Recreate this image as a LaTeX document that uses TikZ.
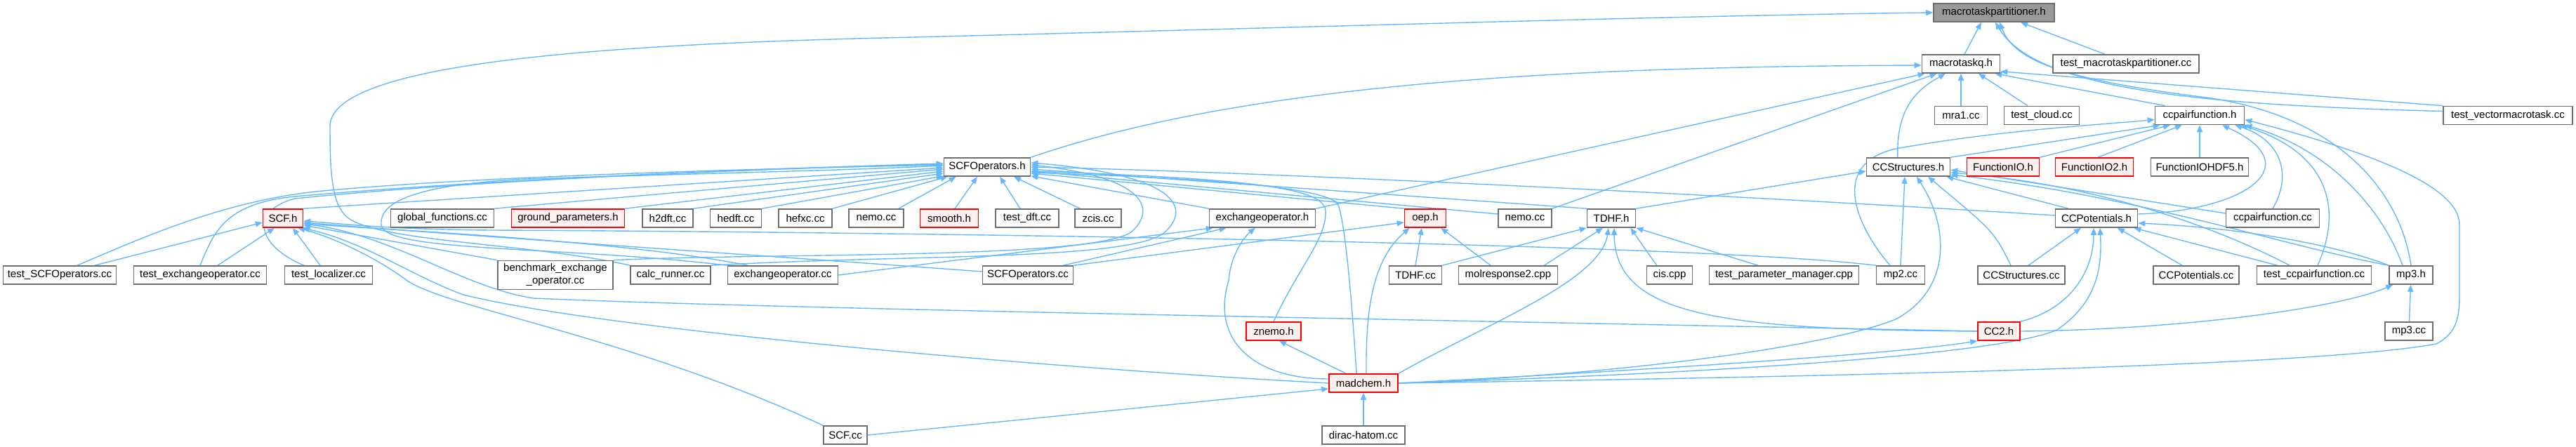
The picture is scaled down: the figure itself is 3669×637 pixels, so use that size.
\documentclass[tikz,border=0pt]{standalone}
\usepackage{fontspec}
\setmainfont{Liberation Sans}
\usetikzlibrary{arrows.meta,calc}
\definecolor{edgeblue}{RGB}{99,184,255}
\definecolor{nodegray}{RGB}{110,110,110}
\definecolor{rootfill}{RGB}{153,153,153}
\definecolor{redfill}{RGB}{255,240,240}
\pgfdeclarelayer{bg}
\pgfsetlayers{bg,main}
\begin{document}
\begin{tikzpicture}[x=0.5pt,y=-0.5pt,
 box/.style={draw=nodegray,fill=white,line width=0.8pt,minimum height=13pt,inner sep=1pt,font=\fontsize{7.5}{9}\selectfont,text=black},
 redbox/.style={box,draw=red,fill=redfill},
 rootbox/.style={box,fill=rootfill},
 e/.style={draw=edgeblue,line width=0.7pt,-{Triangle[length=5pt,width=4pt]}}]
\useasboundingbox (0,0) rectangle (3669,637);
% row 0-3
\node[rootbox,minimum width=86pt] (mtp) at (2840,18) {macrotaskpartitioner.h};
\node[box,minimum width=55.5pt] (mtq) at (2793,91) {macrotaskq.h};
\node[box,minimum width=104pt] (tmtp) at (3028,91) {test\_macrotaskpartitioner.cc};
\node[box,minimum width=37.5pt] (mra1) at (2793,164.5) {mra1.cc};
\node[box,minimum width=53.5pt] (tcloud) at (2908,164.5) {test\_cloud.cc};
\node[box,minimum width=63.5pt] (ccpf) at (3133,164.5) {ccpairfunction.h};
\node[box,minimum width=92pt] (tvm) at (3572,164.5) {test\_vectormacrotask.cc};
\node[box,minimum width=61.5pt] (scfop) at (1406,238) {SCFOperators.h};
\node[box,minimum width=59.5pt] (ccs) at (2718,238) {CCStructures.h};
\node[redbox,minimum width=51.5pt] (fio) at (2853,238) {FunctionIO.h};
\node[redbox,minimum width=55.5pt] (fio2) at (2983,238) {FunctionIO2.h};
\node[box,minimum width=69.5pt] (fiohdf) at (3133,238) {FunctionIOHDF5.h};
% row 4
\node[redbox,minimum width=28.5pt] (scfh) at (403,311) {SCF.h};
\node[box,minimum width=73.5pt] (gf) at (630,311) {global\_functions.cc};
\node[redbox,minimum width=80.5pt] (gp) at (809,311) {ground\_parameters.h};
\node[box,minimum width=36pt] (h2dft) at (951,311) {h2dft.cc};
\node[box,minimum width=36.5pt] (hedft) at (1048,311) {hedft.cc};
\node[box,minimum width=38pt] (hefxc) at (1147,311) {hefxc.cc};
\node[box,minimum width=39pt] (nemoa) at (1248,311) {nemo.cc};
\node[redbox,minimum width=41.5pt] (smooth) at (1352,311) {smooth.h};
\node[box,minimum width=45pt] (testdft) at (1463,311) {test\_dft.cc};
\node[box,minimum width=33pt] (zcis) at (1564,311) {zcis.cc};
\node[box,minimum width=75.5pt] (exh) at (1798,311) {exchangeoperator.h};
\node[redbox,minimum width=29.5pt] (oep) at (2030,311) {oep.h};
\node[box,minimum width=38pt] (nemob) at (2172,311) {nemo.cc};
\node[box,minimum width=34.5pt] (tdhf) at (2295,311) {TDHF.h};
\node[box,minimum width=58.5pt] (ccpot) at (2986,311) {CCPotentials.h};
\node[box,minimum width=66.5pt] (ccpfcc) at (3237,311) {ccpairfunction.cc};
% row 5
\node[box,minimum width=80.5pt] (tscfop) at (85,392) {test\_SCFOperators.cc};
\node[box,minimum width=94.5pt] (texo) at (285,392) {test\_exchangeoperator.cc};
\node[box,minimum width=62.5pt] (tloc) at (468,392) {test\_localizer.cc};
\node[box,minimum width=82pt,minimum height=20.5pt,align=center] (bench) at (791,392) {benchmark\_exchange\\\_operator.cc};
\node[box,minimum width=57pt] (calc) at (955,392) {calc\_runner.cc};
\node[box,minimum width=78.5pt] (exco) at (1115,392) {exchangeoperator.cc};
\node[box,minimum width=64.5pt] (scfopcc) at (1464,392) {SCFOperators.cc};
\node[box,minimum width=37.5pt] (tdhfcc) at (2016,392) {TDHF.cc};
\node[box,minimum width=70.5pt] (molr) at (2148,392) {molresponse2.cpp};
\node[box,minimum width=32.5pt] (cis) at (2378,392) {cis.cpp};
\node[box,minimum width=106.5pt] (tpm) at (2541,392) {test\_parameter\_manager.cpp};
\node[box,minimum width=34.5pt] (mp2) at (2707,392) {mp2.cc};
\node[box,minimum width=62pt] (ccscc) at (2879,392) {CCStructures.cc};
\node[box,minimum width=61pt] (ccpotcc) at (3128,392) {CCPotentials.cc};
\node[box,minimum width=81.5pt] (tccpf) at (3296,392) {test\_ccpairfunction.cc};
\node[box,minimum width=31pt] (mp3h) at (3434,392) {mp3.h};
% rows 6-8
\node[redbox,minimum width=39pt] (znemo) at (1814,472) {znemo.h};
\node[redbox,minimum width=30pt] (cc2) at (2847,472) {CC2.h};
\node[box,minimum width=34pt] (mp3cc) at (3431,472) {mp3.cc};
\node[redbox,minimum width=49pt] (madchem) at (1942,546) {madchem.h};
\node[box,minimum width=31pt] (scfcc) at (1204,620) {SCF.cc};
\node[box,minimum width=59pt] (dirac) at (1942,620) {dirac-hatom.cc};

\begin{pgfonlayer}{bg}
% to macrotaskpartitioner.h
\draw[e] ($(mtq.north)+(5,0)$) -- ($(mtp.south)+(-18,0)$);
\draw[e] ($(tmtp.north)+(-30,0)$) -- ($(mtp.south)+(38,0)$);
\draw[e] (calc.north west) .. controls (750,345) and (520,345) .. (490,305) .. controls (472,285) and (470,240) .. (470,180) .. controls (470,85) and (900,62) .. (1300,53) .. controls (1900,38) and (2400,22) .. (mtp.west);
\draw[e] ($(tvm.west)+(0,-6)$) .. controls (3150,150) and (2900,130) .. ($(mtp.south)+(2,0)$);
\draw[e] (mp3h.north) .. controls (3420,280) and (3340,170) .. (3150,140) .. controls (2950,115) and (2870,90) .. ($(mtp.south)+(8,0)$);
% to macrotaskq.h
\draw[e] (scfop.north east) .. controls (1800,110) and (2300,95) .. ($(mtq.west)+(0,2)$);
\draw[e] (exh.north east) -- ($(mtq.south west)+(5,0)$);
\draw[e] (nemob.north east) -- ($(mtq.south west)+(22,0)$);
\draw[e] ($(ccs.north)+(-15,0)$) .. controls (2700,150) and (2735,125) .. ($(mtq.south)+(-22,0)$);
\draw[e] (mra1) -- (mtq);
\draw[e] ($(tcloud.north)+(-20,0)$) -- ($(mtq.south)+(25,0)$);
\draw[e] ($(ccpf.north west)+(15,0)$) -- ($(mtq.south east)+(-8,0)$);
\draw[e] (tvm.north west) -- ($(mtq.south east)+(0,-3)$);
% to ccpairfunction.h
\draw[e] ($(mp2.north)+(-15,0)$) .. controls (2650,330) and (2600,235) .. (2700,212) .. controls (2850,185) and (2990,178) .. ($(ccpf.west)+(0,6)$);
\draw[e] (ccs.north east) -- ($(ccpf.south west)+(8,0)$);
\draw[e] (fio.north east) -- ($(ccpf.south)+(-42,0)$);
\draw[e] ($(fio2.north)+(5,0)$) -- ($(ccpf.south)+(-25,0)$);
\draw[e] (fiohdf) -- (ccpf);
\draw[e] ($(ccpot.east)+(0,-6)$) .. controls (3200,300) and (3290,235) .. ($(ccpf.south)+(32,0)$);
\draw[e] (ccpfcc.north) .. controls (3265,250) and (3250,200) .. ($(ccpf.south east)+(-14,0)$);
\draw[e] ($(tccpf.north)+(5,0)$) .. controls (3340,290) and (3310,215) .. ($(ccpf.south east)+(-6,0)$);
\draw[e] ($(mp3h.north)+(-12,0)$) .. controls (3390,290) and (3310,210) .. (ccpf.south east);
\draw[e] (madchem.east) .. controls (2600,537) and (3300,522) .. (3470,490) .. controls (3500,475) and (3503,450) .. (3503,420) -- (3503,320) .. controls (3503,260) and (3350,210) .. ($(ccpf.east)+(0,6)$);
% to CCStructures.h
\draw[e] (tdhf.north east) -- ($(ccs.west)+(0,6)$);
\draw[e] (mp2.north) -- ($(ccs.south)+(-5,0)$);
\draw[e] (madchem.east) .. controls (2300,535) and (2600,495) .. (2700,455) .. controls (2775,415) and (2780,330) .. ($(ccs.south)+(12,0)$);
\draw[e] ($(ccscc.north)+(-15,0)$) .. controls (2840,330) .. ($(ccs.south)+(28,0)$);
\draw[e] ($(ccpot.north)+(-40,0)$) -- ($(ccs.south east)+(-6,0)$);
\draw[e] ($(ccpfcc.west)+(0,-7)$) -- ($(ccs.east)+(0,4)$);
\draw[e] ($(tccpf.north)+(-35,0)$) .. controls (3150,320) and (2980,262) .. ($(ccs.east)+(0,8)$);
\draw[e] (mp3h.north west) .. controls (3250,350) and (3050,280) .. ($(ccs.east)+(0,11)$);
% to CCPotentials.h
\draw[e] ($(ccscc.north)+(10,0)$) -- ($(ccpot.south)+(-22,0)$);
\draw[e] ($(ccpotcc.north)+(-20,0)$) -- ($(ccpot.south)+(30,0)$);
\draw[e] ($(tccpf.north west)+(30,0)$) -- ($(ccpot.south east)+(-6,0)$);
\draw[e] (mp3h.north west) .. controls (3330,350) and (3200,325) .. ($(ccpot.east)+(0,7)$);
\draw[e] (cc2.north east) .. controls (2950,440) and (2982,385) .. ($(ccpot.south)+(-4,0)$);
\draw[e] (madchem.east) .. controls (2450,532) and (2850,505) .. (2930,470) .. controls (2988,430) and (2994,380) .. ($(ccpot.south)+(5,0)$);
% CC2.h, mp3.h
\draw[e] (madchem.east) .. controls (2300,530) and (2700,505) .. (cc2.south west);
\draw[e] (cc2.east) .. controls (3100,470) and (3330,440) .. ($(mp3h.south west)+(6,0)$);
\draw[e] (mp3cc) -- (mp3h);
% to TDHF.h
\draw[e] (cc2.west) .. controls (2450,470) and (2300,450) .. ($(tdhf.south)+(4,0)$);
\draw[e] (tdhfcc.north east) -- (tdhf.south west);
\draw[e] ($(molr.north east)+(-20,0)$) -- ($(tdhf.south)+(-12,0)$);
\draw[e] (madchem.north east) .. controls (2120,460) and (2280,400) .. ($(tdhf.south)+(-4,0)$);
\draw[e] ($(cis.north west)+(15,0)$) -- ($(tdhf.south east)+(-8,0)$);
\draw[e] ($(tpm.north west)+(70,0)$) -- (tdhf.south east);
% to SCF.h
\draw[e] (cc2.west) .. controls (2000,455) and (1100,440) .. (760,425) .. controls (660,410) and (560,335) .. ($(scfh.east)+(0,8)$);
\draw[e] (madchem.west) .. controls (1500,525) and (860,470) .. (660,420) .. controls (590,395) and (520,345) .. ($(scfh.south east)+(-2,0)$);
\draw[e] (scfcc.north west) .. controls (900,480) and (640,440) .. (580,400) .. controls (540,370) and (480,340) .. ($(scfh.south east)+(-8,0)$);
\draw[e] (mp2.north west) .. controls (2400,345) and (1200,330) .. (700,328) .. controls (550,327) and (480,318) .. ($(scfh.east)+(0,4)$);
\draw[e] ($(scfopcc.west)+(0,-5)$) .. controls (1100,365) and (650,335) .. ($(scfh.east)+(0,6)$);
\draw[e] ($(exco.north)+(-50,0)$) .. controls (900,345) and (600,330) .. ($(scfh.east)+(0,8)$);
\draw[e] (bench.north west) -- ($(scfh.east)+(0,10)$);
\draw[e] ($(tscfop.north)+(50,0)$) -- ($(scfh.west)+(0,6)$);
\draw[e] ($(texo.north)+(25,0)$) -- ($(scfh.south)+(-12,0)$);
\draw[e] ($(tloc.north)+(-12,0)$) -- ($(scfh.south)+(14,0)$);
% to SCFOperators.h
\draw[e] (scfh.north east) -- ($(scfop.west)+(0,1)$);
\draw[e] (gf.north east) -- ($(scfop.west)+(0,3)$);
\draw[e] (gp.north east) -- ($(scfop.west)+(0,6)$);
\draw[e] (h2dft.north east) -- ($(scfop.west)+(0,9)$);
\draw[e] (hedft.north east) -- ($(scfop.south west)+(0,-1)$);
\draw[e] (hefxc.north east) -- ($(scfop.south west)+(6,0)$);
\draw[e] ($(nemoa.north east)+(-8,0)$) -- ($(scfop.south west)+(18,0)$);
\draw[e] ($(smooth.north)+(8,0)$) -- ($(scfop.south)+(-14,0)$);
\draw[e] ($(testdft.north)+(-10,0)$) -- ($(scfop.south)+(18,0)$);
\draw[e] ($(zcis.north west)+(8,0)$) -- ($(scfop.south)+(38,0)$);
\draw[e] (exh.north west) -- ($(scfop.south east)+(0,-1)$);
\draw[e] (oep.north west) -- ($(scfop.east)+(0,9)$);
\draw[e] ($(nemob.west)+(0,-6)$) -- ($(scfop.east)+(0,6)$);
\draw[e] (tdhf.north west) -- ($(scfop.east)+(0,3)$);
\draw[e] ($(ccpot.west)+(0,-4)$) .. controls (2500,280) and (1800,245) .. (scfop.east);
\draw[e] (znemo.north) .. controls (1850,380) and (1890,340) .. (1888,300) .. controls (1885,270) and (1800,255) .. ($(scfop.east)+(0,6)$);
\draw[e] ($(madchem.north)+(-10,0)$) .. controls (1925,420) and (1915,310) .. (1905,290) .. controls (1880,262) and (1650,252) .. ($(scfop.east)+(0,8)$);
\draw[e] (exco.north west) .. controls (800,350) and (545,360) .. (543,320) .. controls (540,280) and (620,262) .. (750,255) .. controls (1000,247) and (1200,243) .. ($(scfop.west)+(0,-2)$);
\draw[e] (bench.north east) .. controls (1100,360) and (1560,370) .. (1612,330) .. controls (1650,295) and (1625,252) .. ($(scfop.east)+(0,-3)$);
\draw[e] (calc.north east) .. controls (1300,362) and (1615,372) .. (1660,330) .. controls (1700,292) and (1665,248) .. ($(scfop.east)+(0,-6)$);
\draw[e] ($(tscfop.north)+(25,0)$) .. controls (200,340) and (320,285) .. (460,272) .. controls (700,250) and (1100,240) .. ($(scfop.west)+(0,-3)$);
\draw[e] (texo.north) .. controls (305,330) and (320,290) .. (420,280) .. controls (700,255) and (1100,240) .. ($(scfop.west)+(0,-5)$);
\draw[e] ($(tloc.north)+(-35,0)$) .. controls (365,350) and (355,300) .. (420,283) .. controls (700,255) and (1100,240) .. ($(scfop.west)+(0,-4)$);
% to exchangeoperator.h
\draw[e] ($(scfopcc.north east)+(-15,0)$) -- ($(exh.south west)+(25,0)$);
\draw[e] (exco.east) -- ($(exh.south west)+(6,0)$);
\draw[e] ($(madchem.west)+(0,-6)$) .. controls (1780,540) and (1725,480) .. (1750,400) .. controls (1753,360) and (1775,335) .. ($(exh.south)+(-10,0)$);
% to oep.h
\draw[e] (scfopcc.north east) -- ($(oep.west)+(0,6)$);
\draw[e] (tdhfcc.north) -- ($(oep.south)+(-5,0)$);
\draw[e] ($(molr.north)+(-25,0)$) -- ($(oep.south east)+(-8,0)$);
\draw[e] ($(madchem.north)+(4,0)$) .. controls (1945,440) and (1955,370) .. ($(oep.south west)+(8,0)$);
% madchem.h and others
\draw[e] ($(madchem.north)+(-25,0)$) -- ($(znemo.south)+(8,0)$);
\draw[e] (scfcc.east) -- ($(madchem.west)+(0,8)$);
\draw[e] (dirac) -- (madchem);
\end{pgfonlayer}
\end{tikzpicture}
\end{document}
